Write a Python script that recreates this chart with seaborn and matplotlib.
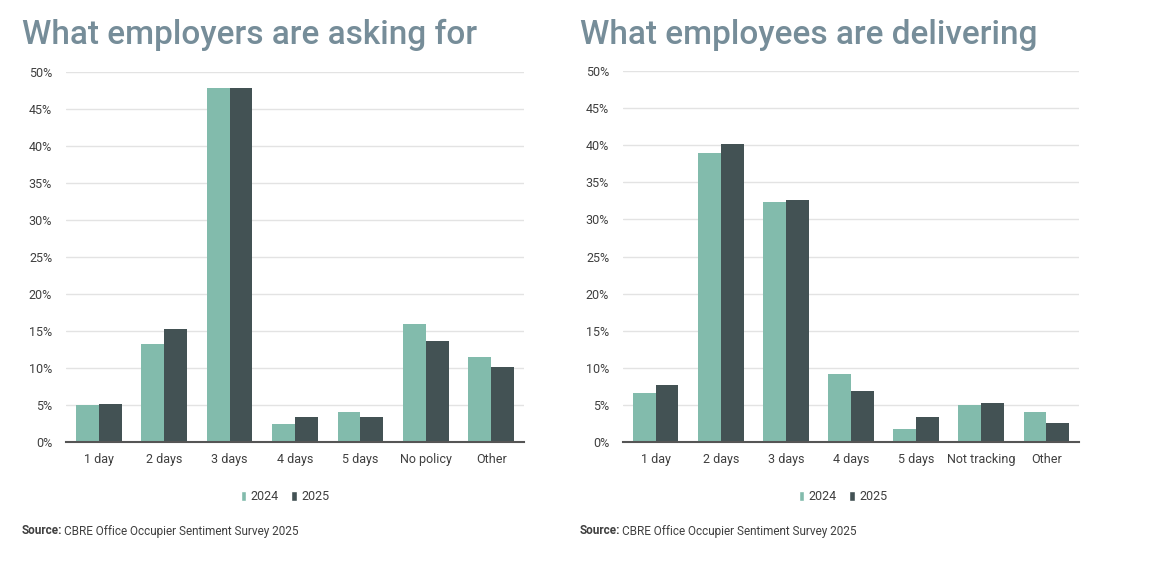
import matplotlib
matplotlib.use("Agg")
import matplotlib.pyplot as plt
import seaborn as sns
import pandas as pd
from matplotlib.patches import Patch
from matplotlib.ticker import FuncFormatter, MultipleLocator

# data (percent)
years = ["2024", "2025"]

ask_categories = ["1 day", "2 days", "3 days", "4 days", "5 days", "No policy", "Other"]
ask_2024 = [5.0, 13.2, 47.9, 2.4, 4.0, 15.9, 11.5]
ask_2025 = [5.1, 15.3, 47.8, 3.4, 3.4, 13.6, 10.2]

deliver_categories = ["1 day", "2 days", "3 days", "4 days", "5 days", "Not tracking", "Other"]
deliver_2024 = [6.6, 38.9, 32.3, 9.1, 1.7, 5.0, 4.1]
deliver_2025 = [7.7, 40.2, 32.6, 6.9, 3.4, 5.2, 2.6]

titles = ["What employers are asking for", "What employees are delivering"]
source_text = "CBRE Office Occupier Sentiment Survey 2025"

LIGHT = "#82BBAC"
DARK = "#435254"
TITLE_COLOR = "#768D99"
TEXT_COLOR = "#3F3F3F"

sns.set_style("white")
plt.rcParams["font.family"] = ["Roboto", "DejaVu Sans"]


def to_long(cats, v24, v25):
    rows = []
    for c, a, b in zip(cats, v24, v25):
        rows.append({"cat": c, "year": years[0], "val": a})
        rows.append({"cat": c, "year": years[1], "val": b})
    return pd.DataFrame(rows)


fig = plt.figure(figsize=(11.74, 5.65), dpi=100)
W, H = 1174, 565

# axes boxes in pixel coords (left, top, right, bottom)
boxes = [(66, 72, 524, 442), (623, 71, 1079, 442)]
panels = [
    (ask_categories, ask_2024, ask_2025),
    (deliver_categories, deliver_2024, deliver_2025),
]
title_x = [22, 580]
legend_cx = [285, 843]

for i, ((l, t, r, b), (cats, v24, v25)) in enumerate(zip(boxes, panels)):
    ax = fig.add_axes([l / W, 1 - b / H, (r - l) / W, (b - t) / H])
    df = to_long(cats, v24, v25)
    sns.barplot(data=df, x="cat", y="val", hue="year", order=cats,
                hue_order=years, palette=[LIGHT, DARK], width=0.7, gap=0,
                saturation=1, legend=False, linewidth=0, ax=ax, zorder=3)
    ax.set_xlim(-0.5, len(cats) - 0.5)
    ax.set_ylim(0, 50)
    ax.yaxis.set_major_locator(MultipleLocator(5))
    ax.yaxis.set_major_formatter(FuncFormatter(lambda v, p: f"{v:.0f}%"))
    ax.grid(axis="y", color="#E3E3E3", linewidth=1, zorder=0)
    ax.set_axisbelow(True)
    for s in ["top", "right", "left"]:
        ax.spines[s].set_visible(False)
    ax.spines["bottom"].set_color("#555555")
    ax.spines["bottom"].set_linewidth(1.5)
    ax.spines["bottom"].set_zorder(4)
    ax.tick_params(axis="both", length=0, labelsize=9, labelcolor=TEXT_COLOR)
    ax.tick_params(axis="x", pad=8)
    ax.tick_params(axis="y", pad=10)
    ax.set_xlabel("")
    ax.set_ylabel("")

    fig.text(title_x[i] / W, 1 - 44 / H, titles[i], fontsize=24,
             fontweight="medium", color=TITLE_COLOR, ha="left", va="baseline")

    handles = [Patch(facecolor=LIGHT, label=years[0]),
               Patch(facecolor=DARK, label=years[1])]
    fig.legend(handles=handles, loc="center", ncol=2, frameon=False,
               bbox_to_anchor=(legend_cx[i] / W, 1 - 497 / H),
               handlelength=0.45, handleheight=0.9, handletextpad=0.35,
               columnspacing=1.0, fontsize=9, labelcolor=TEXT_COLOR)

    src = fig.text(title_x[i] / W, 1 - 531 / H, "Source:", fontsize=8.5,
                   fontweight="bold", color=TEXT_COLOR, ha="left", va="center")
    fig.canvas.draw()
    bb = src.get_window_extent()
    fig.text((bb.x1 + 1) / W, 1 - 531 / H, source_text, fontsize=8.5,
             color=TEXT_COLOR, ha="left", va="center")

fig.savefig("out.png", dpi=100, facecolor="white")
